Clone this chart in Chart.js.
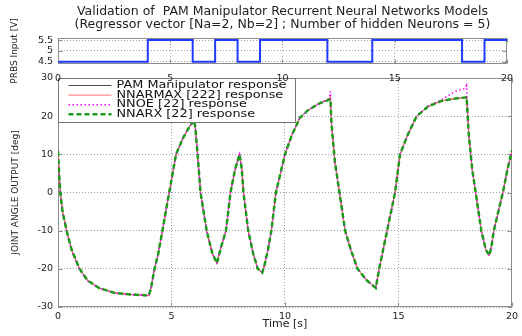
<!DOCTYPE html>
<html><head><meta charset="utf-8">
<script src="https://cdn.jsdelivr.net/npm/chart.js@4"></script>
<style>
html,body{margin:0;padding:0;background:#fff}
#wrap{position:relative;width:522px;height:336px;background:#fff}
canvas{position:absolute;left:0;top:0}
</style></head><body>
<div id="wrap">
<canvas id="main" width="522" height="336"></canvas>
<canvas id="prbs" width="522" height="92"></canvas>
</div>
<script>
const titleLines = [
  'Validation of  PAM Manipulator Recurrent Neural Networks Models',
  '(Regressor vector [Na=2, Nb=2] ; Number of hidden Neurons = 5)'
];
const timeTicks = [0, 5, 10, 15, 20];
const prbsTicks = [4.5, 5, 5.5];
const angleTicks = [-30, -20, -10, 0, 10, 20, 30];

// PRBS input: switching times and level held from that time on
const prbsTimes  = [0,   4,   6,   7,   8,   9,   12,  14,  18,  19,  20];
const prbsLevels = [4.5, 5.5, 4.5, 5.5, 4.5, 5.5, 4.5, 5.5, 4.5, 5.5, 5.5];

const seriesNames = ['PAM Manipulator response', 'NNARMAX [222] response', 'NNOE [22] response', 'NNARX [22] response'];

const time = [0, 0.05, 0.1, 0.2, 0.38, 0.6, 0.95, 1.3, 1.8, 2.5, 3.2, 4.0, 4.1, 4.25, 4.4, 4.6, 4.75, 4.9, 5.05, 5.2,
  5.5, 5.8, 6.0, 6.05, 6.15, 6.28, 6.55, 6.8, 7.0, 7.2, 7.4, 7.6, 7.8, 8.0, 8.1, 8.17, 8.38, 8.6, 8.8, 9.0,
  9.1, 9.25, 9.4, 9.6, 9.8, 10.0, 10.3, 10.65, 11.0, 11.5, 11.95, 12.0, 12.05, 12.2, 12.4, 12.65, 12.9, 13.2, 13.6, 14.0,
  14.15, 14.5, 14.85, 15.07, 15.4, 15.8, 16.3, 16.9, 17.5, 17.95, 18.0, 18.1, 18.25, 18.4, 18.65, 18.85, 19.0, 19.1, 19.2, 19.4,
  19.6, 19.8, 20.0];
const pamResponse = [11, 5, 0, -5, -10, -15, -20, -23, -25, -26.3, -26.7, -27, -25, -20, -16.5, -10, -5, 0, 5, 10,
  14.2, 17.3, 19, 17, 10, 0, -10, -16, -18.5, -14, -10, 0, 6, 10, 6, 0, -10, -16, -20, -21,
  -19, -15, -10, 0, 5, 10, 15, 19.5, 21.5, 23.3, 24.3, 24.4, 18, 8, 0, -10, -15, -20, -23, -25,
  -20, -10, 0, 10, 15, 20, 22.5, 24, 24.6, 24.9, 25, 15, 6, 0, -10, -15, -16.5, -14, -10, -5,
  0, 6, 11];
const narmaxResponse = [10.5, 5.5, 0.5, -5, -10, -15.2, -20, -23, -25.1, -26.3, -26.7, -27, -25.2, -20, -16.4, -10, -5, 0, 5, 9.8,
  14.2, 17.3, 19, 17, 10, 0, -10, -16, -18.6, -14, -10, 0, 6, 10.2, 6, 0, -10, -16, -20, -21,
  -19, -15, -10, 0, 5, 10, 15, 19.5, 21.5, 23.3, 24.4, 25.2, 18, 8, 0, -10, -15, -20, -23, -25,
  -20, -10, 0, 10, 15, 20, 22.5, 24, 24.6, 24.9, 25.3, 15, 6, 0, -10, -15, -16.6, -14, -10, -5,
  0, 6, 11];
const noeResponse = [10, 5, 0, -5, -10, -15.3, -20.3, -23.2, -25, -26.4, -26.8, -27, -25, -20, -16.5, -10, -5, 0, 5, 10,
  14.2, 17.3, 19, 17, 10, 0, -10, -16, -18.5, -14, -10, 0, 6, 10, 6, 0, -10, -16, -20, -21,
  -19, -15, -10, 0, 5, 10, 15, 19.5, 21.5, 23.4, 24.6, 26.5, 18, 8, 0, -10, -15, -20, -23, -25,
  -20, -10, 0, 10, 15, 20, 22.7, 24.3, 26.5, 27.3, 28, 15, 6, 0, -10, -15, -16.5, -14, -10, -5,
  0, 6, 11];
const narxResponse = [10.8, 5, 0, -5, -10, -15, -20, -23, -25, -26.3, -26.7, -27, -25, -20, -16.5, -10, -5, 0, 5, 10,
  14.2, 17.3, 19, 17, 10, 0, -10, -16, -18.5, -14, -10, 0, 6, 10, 6, 0, -10, -16, -20, -21,
  -19, -15, -10, 0, 5, 10, 15, 19.5, 21.5, 23.3, 24.3, 24.5, 18, 8, 0, -10, -15, -20, -23, -25,
  -20, -10, 0, 10, 15, 20, 22.5, 24, 24.6, 24.9, 25.1, 15, 6, 0, -10, -15, -16.5, -14, -10, -5,
  0, 6, 11];

const FONT = "'DejaVu Sans', sans-serif";
Chart.defaults.font.family = FONT;
Chart.defaults.color = '#222';

const toXY = (xs, ys) => xs.map((x, i) => ({x: x, y: ys[i]}));

const framePlugin = {
  id: 'frame',
  beforeDatasetsDraw(chart) {
    const {ctx, chartArea: a, scales} = chart;
    ctx.save();
    ctx.strokeStyle = '#8c8c8c';
    ctx.lineWidth = 1;
    const L = Math.round(a.left) + 0.5, R = Math.round(a.right) - 0.5;
    const T = Math.round(a.top) + 0.5, B = Math.round(a.bottom) - 0.5;
    ctx.strokeRect(L, T, R - L, B - T);
    ctx.beginPath();
    scales.x.ticks.forEach(tk => {
      const px = Math.round(scales.x.getPixelForValue(tk.value)) + 0.5;
      ctx.moveTo(px, B); ctx.lineTo(px, B - 4);
      ctx.moveTo(px, T); ctx.lineTo(px, T + 4);
    });
    scales.y.ticks.forEach(tk => {
      const py = Math.round(scales.y.getPixelForValue(tk.value)) + 0.5;
      ctx.moveTo(L, py); ctx.lineTo(L + 4, py);
      ctx.moveTo(R, py); ctx.lineTo(R - 4, py);
    });
    ctx.stroke();
    ctx.restore();
  }
};

const legendPlugin = {
  id: 'boxLegend',
  afterDatasetsDraw(chart) {
    const {ctx, chartArea: a} = chart;
    const x0 = Math.round(a.left) + 0.5, y0 = Math.round(a.top) + 0.5;
    const w = 237, h = 44;
    ctx.save();
    ctx.fillStyle = '#fff';
    ctx.fillRect(x0, y0, w, h);
    ctx.strokeStyle = '#777';
    ctx.lineWidth = 1;
    ctx.strokeRect(x0, y0, w, h);
    ctx.font = '10px ' + FONT;
    ctx.textBaseline = 'middle';
    ctx.fillStyle = '#111';
    const sx = 170 / ctx.measureText(seriesNames[0]).width;
    seriesNames.forEach((name, i) => {
      const ds = chart.data.datasets[i];
      const y = y0 + 7 + i * 9.6;
      ctx.save();
      ctx.strokeStyle = ds.borderColor;
      ctx.lineWidth = ds.borderWidth;
      ctx.setLineDash(ds.borderDash || []);
      ctx.beginPath();
      ctx.moveTo(x0 + 10, y); ctx.lineTo(x0 + 53, y);
      ctx.stroke();
      ctx.restore();
      ctx.save();
      ctx.translate(x0 + 58, y);
      ctx.scale(sx, 1);
      ctx.fillText(name, 0, 0);
      ctx.restore();
    });
    ctx.restore();
  }
};

const gridOpts = {color: '#a0a0a0', lineWidth: 1, drawTicks: false};
const borderOpts = {display: false, dash: [1, 2]};

new Chart(document.getElementById('main'), {
  type: 'line',
  data: {
    datasets: [
      {label: seriesNames[0], data: toXY(time, pamResponse), borderColor: '#4a4a4a', borderWidth: 1, pointRadius: 0, order: 3},
      {label: seriesNames[1], data: toXY(time, narmaxResponse), borderColor: '#ff6a6a', borderWidth: 1, pointRadius: 0, order: 2},
      {label: seriesNames[2], data: toXY(time, noeResponse), borderColor: '#ff00ff', borderWidth: 1.5, borderDash: [1.5, 2.5], pointRadius: 0, order: 1},
      {label: seriesNames[3], data: toXY(time, narxResponse), borderColor: '#1c9a1c', borderWidth: 2.5, borderDash: [5, 3], pointRadius: 0, order: 0}
    ]
  },
  options: {
    responsive: false, animation: false, devicePixelRatio: 1,
    layout: {padding: {left: 0, right: 6, top: 78, bottom: 0}},
    plugins: {legend: {display: false}, title: {display: false}, tooltip: {enabled: false}},
    scales: {
      x: {
        type: 'linear', min: 0, max: 20,
        afterBuildTicks: s => { s.ticks = timeTicks.map(v => ({value: v})); },
        afterFit: s => { s.height = 29; },
        ticks: {font: {size: 9.5}, padding: 4, callback: v => String(v), maxRotation: 0, autoSkip: false},
        grid: gridOpts, border: borderOpts,
        title: {display: true, text: 'Time [s]', font: {size: 11}, padding: {top: 0, bottom: 5}}
      },
      y: {
        type: 'linear', min: -30, max: 30,
        afterBuildTicks: s => { s.ticks = angleTicks.map(v => ({value: v})); },
        afterFit: s => { s.width = 58; },
        ticks: {font: {size: 9.5}, padding: 5, callback: v => String(v), autoSkip: false},
        grid: gridOpts, border: borderOpts,
        title: {display: true, text: 'JOINT ANGLE OUTPUT [deg]', font: {size: 9}, padding: {top: 10, bottom: 0}}
      }
    }
  },
  plugins: [framePlugin, legendPlugin]
});

new Chart(document.getElementById('prbs'), {
  type: 'line',
  data: {
    datasets: [
      {label: 'PRBS', data: toXY(prbsTimes, prbsLevels), stepped: 'before', borderColor: '#1f3cff', borderWidth: 2, pointRadius: 0}
    ]
  },
  options: {
    responsive: false, animation: false, devicePixelRatio: 1,
    layout: {padding: {left: 0, right: 6, top: 0, bottom: 0}},
    plugins: {
      legend: {display: false}, tooltip: {enabled: false},
      title: {display: true, text: titleLines, fullSize: false, color: '#222',
        font: {size: 12.5, weight: 'normal', lineHeight: 1.05}, padding: {top: 5.4, bottom: 6.3}}
    },
    scales: {
      x: {
        type: 'linear', min: 0, max: 20,
        afterBuildTicks: s => { s.ticks = timeTicks.map(v => ({value: v})); },
        afterFit: s => { s.height = 28; },
        ticks: {font: {size: 9.5}, padding: 9, callback: v => String(v), maxRotation: 0, autoSkip: false},
        grid: gridOpts, border: borderOpts
      },
      y: {
        type: 'linear', min: 4.4, max: 5.6,
        afterBuildTicks: s => { s.ticks = prbsTicks.map(v => ({value: v})); },
        afterFit: s => { s.width = 58; },
        ticks: {font: {size: 9.5}, padding: 5, callback: v => String(v), autoSkip: false},
        grid: gridOpts, border: borderOpts,
        title: {display: true, text: 'PRBS Input [V]', font: {size: 9}, padding: {top: 9, bottom: 0}}
      }
    }
  },
  plugins: [framePlugin]
});
</script>
</body></html>
